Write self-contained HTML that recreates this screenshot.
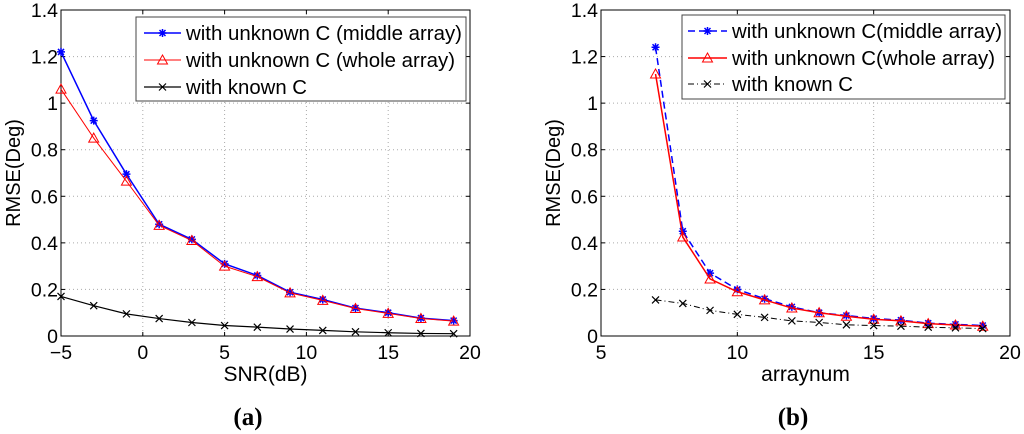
<!DOCTYPE html>
<html><head><meta charset="utf-8"><style>
body{margin:0;background:#fff;}
svg{display:block;font-family:"Liberation Sans",sans-serif;}
</style></head><body>
<svg id="svg" width="1024" height="434" xmlns="http://www.w3.org/2000/svg"></svg>
<script>
const snrX=[-5,-3,-1,1,3,5,7,9,11,13,15,17,19];
const aMiddle=[1.22,0.925,0.695,0.48,0.415,0.31,0.26,0.188,0.157,0.12,0.1,0.077,0.066];
const aWhole=[1.06,0.85,0.665,0.475,0.41,0.3,0.255,0.185,0.153,0.118,0.097,0.075,0.064];
const aKnown=[0.17,0.13,0.095,0.075,0.058,0.045,0.038,0.03,0.024,0.018,0.014,0.011,0.01];
const arrX=[7,8,9,10,11,12,13,14,15,16,17,18,19];
const bMiddle=[1.24,0.45,0.27,0.2,0.16,0.125,0.1,0.088,0.075,0.068,0.055,0.05,0.045];
const bWhole=[1.125,0.425,0.245,0.19,0.155,0.12,0.1,0.085,0.072,0.065,0.053,0.047,0.042];
const bKnown=[0.155,0.14,0.11,0.093,0.08,0.065,0.058,0.048,0.045,0.042,0.038,0.035,0.032];
const yTicks=[0,0.2,0.4,0.6,0.8,1,1.2,1.4];
const yTickLabels=["0","0.2","0.4","0.6","0.8","1","1.2","1.4"];
const aXTicks=[-5,0,5,10,15,20];
const aXTickLabels=["\u22125","0","5","10","15","20"];
const bXTicks=[5,10,15,20];
const bXTickLabels=["5","10","15","20"];

const svg=document.getElementById('svg');
const NS="http://www.w3.org/2000/svg";
function mk(tag,attrs,parent){const e=document.createElementNS(NS,tag);for(const k in attrs)e.setAttribute(k,attrs[k]);(parent||svg).appendChild(e);return e;}

function marker(g,type,x,y,color){
  if(type==='star'){
    const s=4;
    const p=mk('path',{d:`M${x-s},${y}H${x+s}M${x},${y-s}V${y+s}M${x-3},${y-3}L${x+3},${y+3}M${x-3},${y+3}L${x+3},${y-3}`,stroke:color,'stroke-width':1.5,fill:'none'},g);
    
    
  }else if(type==='tri'){
    const p=mk('path',{d:`M${x},${y-5}L${x+5},${y+4}L${x-5},${y+4}Z`,stroke:color,'stroke-width':1,fill:'none'},g);
    
    
  }else{
    const p=mk('path',{d:`M${x-3.5},${y-3.5}L${x+3.5},${y+3.5}M${x-3.5},${y+3.5}L${x+3.5},${y-3.5}`,stroke:color,'stroke-width':1.2,fill:'none'},g);
    
    
  }
}

function chart(cfg){
  const {L,R,T,B,xmin,xmax,xTicks,xLabels,xs,series,xTitle,name,legend,caption,capX}=cfg;
  const g=mk('g',{});
  
  
  const sx=v=>L+(v-xmin)/(xmax-xmin)*(R-L);
  const sy=v=>B-v/1.4*(B-T);
  mk('rect',{x:L,y:T,width:R-L,height:B-T,fill:'#fff'},g);
  xTicks.forEach((t,i)=>{
    const X=sx(t);
    if(i>0&&i<xTicks.length-1){const l=mk('line',{x1:X,y1:T,x2:X,y2:B,stroke:'#aaa','stroke-dasharray':'1,3','stroke-width':1},g);}
    mk('line',{x1:X,y1:B,x2:X,y2:B-4,stroke:'#000'},g);
    mk('line',{x1:X,y1:T,x2:X,y2:T+4,stroke:'#000'},g);
    const tx=mk('text',{x:X,y:B+23,'font-size':19.5,'text-anchor':'middle'},g);tx.textContent=xLabels[i];
    
  });
  yTicks.forEach((t,i)=>{
    const Y=sy(t);
    if(i>0&&i<yTicks.length-1){const l=mk('line',{x1:L,y1:Y,x2:R,y2:Y,stroke:'#aaa','stroke-dasharray':'1,3','stroke-width':1},g);}
    mk('line',{x1:L,y1:Y,x2:L+4,y2:Y,stroke:'#000'},g);
    mk('line',{x1:R,y1:Y,x2:R-4,y2:Y,stroke:'#000'},g);
    const tx=mk('text',{x:L-3,y:Y+7,'font-size':19.5,'text-anchor':'end'},g);tx.textContent=yTickLabels[i];
    
  });
  const ax=mk('rect',{x:L,y:T,width:R-L,height:B-T,fill:'none',stroke:'#000','stroke-width':1},g);
  
  series.forEach(s=>{
    const sg=mk('g',{},g);
    
    
    const pts=xs.map((x,i)=>sx(x)+','+sy(s.vals[i])).join(' ');
    mk('polyline',{points:pts,fill:'none',stroke:s.color,'stroke-width':s.w,'stroke-dasharray':s.dash||'none'},sg);
    xs.forEach((x,i)=>marker(sg,s.m,sx(x),sy(s.vals[i]),s.color));
  });
  const xt=mk('text',{x:(L+R)/2,y:B+45,'font-size':21,'text-anchor':'middle'},g);xt.textContent=xTitle;
  
  const yt=mk('text',{x:0,y:0,'font-size':20,'text-anchor':'middle',transform:`translate(${L-41},${(T+B)/2}) rotate(-90)`},g);yt.textContent='RMSE(Deg)';
  
  const lg=mk('g',{},g);
  
  mk('rect',{x:legend.x,y:legend.y,width:legend.w,height:legend.h,fill:'#fff',stroke:'#444','stroke-width':1},lg);
  series.forEach((s,i)=>{
    const Y=legend.rows[i];
    const e=mk('g',{},lg);
    
    mk('line',{x1:legend.lx1,y1:Y,x2:legend.lx2,y2:Y,stroke:s.color,'stroke-width':s.w,'stroke-dasharray':s.dash||'none'},e);
    marker(e,s.m,(legend.lx1+legend.lx2)/2,Y,s.color);
    const t=mk('text',{x:legend.tx,y:Y+7,'font-size':20.5,textLength:legend.tl[i],lengthAdjust:'spacingAndGlyphs'},e);t.textContent=s.label;
  });
  const c=mk('text',{x:capX,y:425,'font-size':25,'font-weight':'bold','text-anchor':'middle','font-family':'Liberation Serif, serif'},g);
  c.textContent=caption;
}

chart({L:61,R:470,T:10,B:336,xmin:-5,xmax:20,xTicks:aXTicks,xLabels:aXTickLabels,xs:snrX,xTitle:'SNR(dB)',name:'chart-a',caption:'(a)',capX:248,
  series:[
    {name:'series-middle-array',vals:aMiddle,color:'#0000ff',w:1.5,m:'star',label:'with unknown C (middle array)'},
    {name:'series-whole-array',vals:aWhole,color:'#ff0000',w:1,m:'tri',label:'with unknown C (whole array)'},
    {name:'series-known-c',vals:aKnown,color:'#000',w:1.2,m:'x',label:'with known C'}],
  legend:{x:136,y:17,w:330,h:84,rows:[33,60,87],lx1:144,lx2:181,tx:186,tl:[276,269,121]}});
chart({L:601,R:1010,T:10,B:336,xmin:5,xmax:20,xTicks:bXTicks,xLabels:bXTickLabels,xs:arrX,xTitle:'arraynum',name:'chart-b',caption:'(b)',capX:793,
  series:[
    {name:'series-middle-array',vals:bMiddle,color:'#0000ff',w:1.5,m:'star',dash:'7,4',label:'with unknown C(middle array)'},
    {name:'series-whole-array',vals:bWhole,color:'#ff0000',w:1.5,m:'tri',label:'with unknown C(whole array)'},
    {name:'series-known-c',vals:bKnown,color:'#000',w:1,m:'x',dash:'6,3,1,3',label:'with known C'}],
  legend:{x:682,y:15,w:323,h:84,rows:[31,58,84],lx1:688,lx2:727,tx:732,tl:[270,263,121]}});
</script>
</body></html>
